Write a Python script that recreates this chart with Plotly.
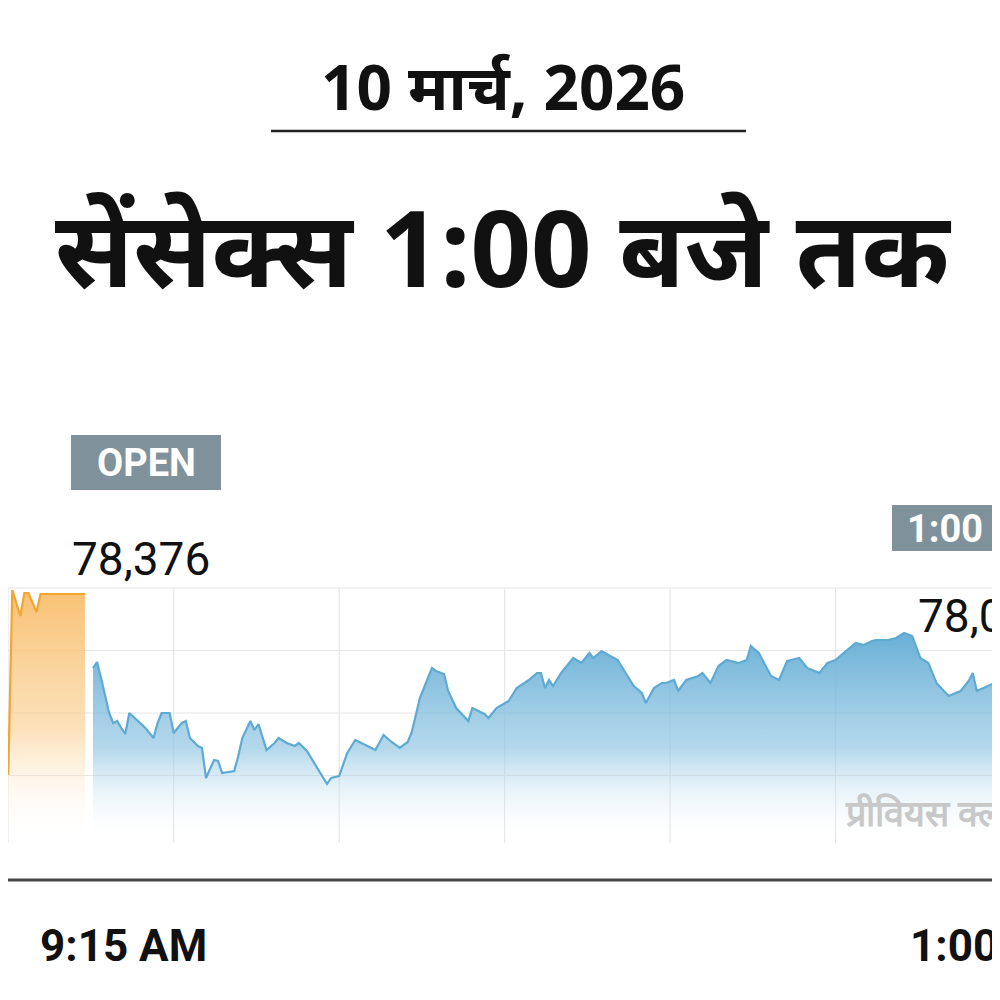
import plotly.graph_objects as go

# Pre-open (minutes relative to 9:15) and values
pre_min = [-21, -20, -18, -17, -16, -14, -13, -2]
pre_val = [77652, 78392, 78288, 78380, 78380, 78304, 78376, 78376]

# Session (minutes after 9:15) and Sensex values
sess_min = [0,1,2,4,5,6,7,8,9,11,13,15,16,17,19,20,22,23,24,26,27,28,30,31,32,35,36,37,39,40,41,43,45,46,48,50,51,53,56,58,59,61,63,65,68,70,72,74,76,78,79,81,82,84,85,87,88,90,93,94,97,98,100,103,105,108,110,111,112,113,114,116,119,121,123,124,126,129,130,132,134,136,137,139,141,142,144,145,147,150,151,153,155,157,160,162,163,165,167,168,170,172,173,175,177,180,182,184,186,189,191,193,194,197,199,201,203,205,207,209,212,215,217,218,219,223,225]
sess_val = [78080,78104,78040,77900,77860,77868,77840,77816,77900,77868,77840,77800,77860,77900,77900,77820,77860,77868,77800,77768,77760,77640,77712,77708,77660,77668,77728,77800,77868,77832,77856,77752,77780,77800,77780,77768,77780,77748,77672,77616,77640,77648,77740,77792,77768,77752,77812,77784,77760,77784,77824,77960,78000,78080,78068,78056,77988,77920,77868,77920,77896,77880,77920,77948,78000,78032,78060,78060,78000,78032,78008,78060,78120,78100,78140,78120,78148,78120,78112,78060,78008,77980,77940,78000,78020,78020,78032,77988,78032,78048,78060,78020,78088,78112,78100,78112,78168,78140,78080,78048,78032,78108,78112,78120,78080,78060,78100,78112,78140,78180,78172,78188,78192,78192,78200,78220,78208,78120,78100,78020,77968,77988,78028,78060,77988,78016,78032]

open_label = "78,376"
now_label = "78,032"
prev_label = "77,566"
x_labels = ["9:15 AM", "1:00"]
grid_y = [78400, 78150, 77900, 77650]
grid_x = [-21.06, 20, 61, 102, 143, 184, 225]
BASE = 77380
X_RANGE = [-21.06, 225]
Y_RANGE = [77232, 78480]

fig = go.Figure()

def area(xs, ys, line_col, top_col, mid_col, bot_col):
    fig.add_trace(go.Scatter(x=[xs[0], xs[-1]], y=[BASE, BASE], mode="lines",
                             line=dict(width=0), hoverinfo="skip", showlegend=False))
    fig.add_trace(go.Scatter(x=xs, y=ys, mode="lines", fill="tonexty",
                             line=dict(color=line_col, width=2.2),
                             fillgradient=dict(type="vertical",
                                               colorscale=[[0, bot_col], [0.45, mid_col], [1, top_col]]),
                             showlegend=False, hoverinfo="skip"))

area(pre_min, pre_val, "#f2a531", "rgba(247,186,100,0.9)", "rgba(250,205,140,0.6)", "rgba(255,255,255,0)")
area(sess_min, sess_val, "#5eaad2", "rgba(105,175,214,1)", "rgba(140,195,225,0.65)", "rgba(255,255,255,0)")

shapes = []
for gx in grid_x:
    shapes.append(dict(type="line", xref="x", yref="y", x0=gx, x1=gx, y0=BASE, y1=grid_y[0],
                       line=dict(color="#e6e6e6", width=1.2), layer="below"))
for gy in grid_y:
    shapes.append(dict(type="line", xref="paper", yref="y", x0=0, x1=1, y0=gy, y1=gy,
                       line=dict(color="#e6e6e6", width=1.2), layer="below"))
shapes.append(dict(type="line", xref="paper", yref="paper", x0=0, x1=0.994, y0=0.128, y1=0.128,
                   line=dict(color="#444", width=3)))
shapes.append(dict(type="line", xref="paper", yref="paper", x0=0.994, x1=0.994, y0=0.112, y1=0.137,
                   line=dict(color="#333", width=2)))
shapes.append(dict(type="line", xref="paper", yref="paper", x0=0.263, x1=0.738, y0=0.877, y1=0.877,
                   line=dict(color="#222", width=2.5)))
shapes.append(dict(type="rect", xref="paper", yref="paper", x0=0.063, x1=0.213, y0=0.518, y1=0.573,
                   fillcolor="#7f929c", line=dict(width=0)))
shapes.append(dict(type="rect", xref="paper", yref="paper", x0=0.884, x1=1.01, y0=0.457, y1=0.503,
                   fillcolor="#7f929c", line=dict(width=0)))

NARROW = "Roboto, Liberation Sans Narrow, sans-serif"
def ann(text, x, y, size, color="#111", family="Noto Sans, sans-serif", xanchor="center", bold=False):
    return dict(text=f"<b>{text}</b>" if bold else text, x=x, y=y, xref="paper", yref="paper",
                xanchor=xanchor, yanchor="middle", showarrow=False,
                font=dict(size=size, color=color, family=family))

annotations = [
    ann("10 मार्च, 2026", 0.495, 0.922, 62, bold=True),
    ann("सेंसेक्स 1:00 बजे तक", 0.495, 0.762, 106, bold=True),
    ann("OPEN", 0.138, 0.545, 38, color="white", family=NARROW, bold=True),
    ann(open_label, 0.062, 0.449, 46, family=NARROW, xanchor="left"),
    ann("1:00", 0.897, 0.479, 38, color="white", family=NARROW, xanchor="left", bold=True),
    ann(now_label, 0.908, 0.392, 46, family=NARROW, xanchor="left"),
    ann(prev_label, 0.985, 0.28, 40, color="#cccccc", family=NARROW, xanchor="left"),
    ann("प्रीवियस क्लोज", 0.835, 0.194, 36, color="#c8c8c8", family=NARROW, xanchor="left", bold=True),
    ann(x_labels[0], 0.03, 0.062, 44, family=NARROW, xanchor="left", bold=True),
    ann(x_labels[1], 0.9, 0.062, 44, family=NARROW, xanchor="left", bold=True),
]

fig.update_layout(
    width=1000, height=1000, margin=dict(l=0, r=0, t=0, b=0),
    paper_bgcolor="white", plot_bgcolor="white",
    xaxis=dict(domain=[0, 0.993], range=X_RANGE, showgrid=False, zeroline=False,
               showticklabels=False, fixedrange=True),
    yaxis=dict(domain=[0.128, 0.44], range=Y_RANGE, showgrid=False, zeroline=False,
               showticklabels=False, fixedrange=True),
    shapes=shapes, annotations=annotations, showlegend=False,
)
fig.write_html("out.html")
